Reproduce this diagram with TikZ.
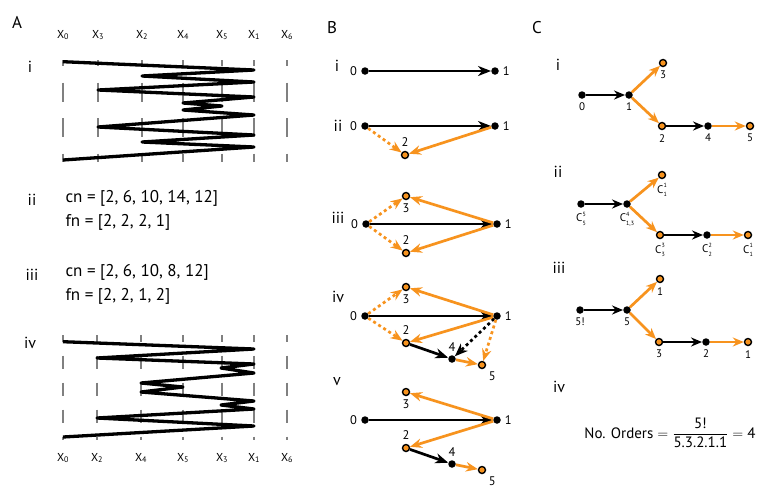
\documentclass[tikz,border=0pt]{standalone}
\usepackage{fontspec}
\setmainfont{PT Sans}
\usepackage{amsmath}
\usetikzlibrary{arrows.meta}
\definecolor{ordorange}{RGB}{247,147,30}
\definecolor{colgrey}{RGB}{128,128,128}
\newcommand{\Cnk}[2]{C\rlap{\raisebox{5.6pt}{\fontsize{6}{7}\selectfont#1}}\raisebox{-3.6pt}{\fontsize{6}{7}\selectfont#2}}
\tikzset{
  bdot/.style={circle, fill=black, inner sep=0pt, minimum size=7.5pt},
  odot/.style={circle, draw=black, fill=ordorange, line width=1.4pt, inner sep=0pt, minimum size=7pt},
  barr/.style={black, line width=2.7pt, -{Stealth[length=13pt, width=10pt, inset=4pt]}},
  oarr/.style={ordorange, line width=2.7pt, -{Stealth[length=12pt, width=9.5pt, inset=4pt]}},
  carr/.style={line width=2.7pt, -{Stealth[length=11pt, width=9pt, inset=3.5pt]}},
  dotline/.style={dash pattern=on 3pt off 3pt},
  gridtop/.style={colgrey, line width=2pt, dash pattern=on 19pt off 16.5pt, dash phase=13pt},
  gridbot/.style={colgrey, line width=2pt, dash pattern=on 13.5pt off 13.5pt, dash phase=6.5pt},
  zigzag/.style={black, line width=3.3pt, line join=round},
  panel/.style={font=\fontsize{17}{20}\selectfont},
  roman/.style={font=\fontsize{16}{19}\selectfont, anchor=base},
  colx/.style={font=\fontsize{11.5}{13}\selectfont},
  listtxt/.style={font=\fontsize{17}{20}\selectfont, anchor=base west},
  blab/.style={font=\fontsize{12.5}{14}\selectfont},
  clab/.style={font=\fontsize{11}{12}\selectfont},
  label distance=0.5pt
}
\begin{document}
\begin{tikzpicture}[x=1pt, y=-1pt]
                \useasboundingbox (0,0) rectangle (763,491);
                \node[panel] (labA) at (17,22) {A};
                \node[panel] (labB) at (332,28) {B};
                \node[panel] (labC) at (537,28) {C};
                \node[colx] (tx0) at (63,35) {X\textsubscript{0}};
                \node[colx] (tx3) at (98,35) {X\textsubscript{3}};
                \node[colx] (tx2) at (142,35) {X\textsubscript{2}};
                \node[colx] (tx4) at (183,35) {X\textsubscript{4}};
                \node[colx] (tx5) at (222,35) {X\textsubscript{5}};
                \node[colx] (tx1) at (254,35) {X\textsubscript{1}};
                \node[colx] (tx6) at (287,35) {X\textsubscript{6}};
                \draw[gridtop] (63,60) -- (63,162);
                \draw[gridtop] (98,60) -- (98,162);
                \draw[gridtop] (142,60) -- (142,162);
                \draw[gridtop] (183,60) -- (183,162);
                \draw[gridtop] (222,60) -- (222,162);
                \draw[gridtop] (254,60) -- (254,162);
                \draw[gridtop] (287,60) -- (287,162);
                \draw[zigzag] (63,61.7) -- (254,70) -- (142,76) -- (254,82) -- (98,90) -- (254,97) -- (183,103) -- (222,106) -- (183,110) -- (254,115) -- (98,127) -- (254,135) -- (142,142) -- (254,147) -- (63,160);
                \node[roman] (ai) at (30,72) {i};
                \node[roman] (aii) at (32,205) {ii};
                \node[listtxt] (cnii) at (62,202) {cn = [2, 6, 10, 14, 12]};
                \node[listtxt] (fnii) at (62,226) {fn = [2, 2, 2, 1]};
                \node[roman] (aiii) at (32,280) {iii};
                \node[listtxt] (cniii) at (62,276) {cn = [2, 6, 10, 8, 12]};
                \node[listtxt] (fniii) at (62,300) {fn = [2, 2, 1, 2]};
                \node[roman] (aiv) at (30,348) {iv};
                \draw[gridbot] (63,335) -- (63,440);
                \draw[gridbot] (97,335) -- (97,440);
                \draw[gridbot] (141,335) -- (141,440);
                \draw[gridbot] (183,335) -- (183,440);
                \draw[gridbot] (222,335) -- (222,440);
                \draw[gridbot] (254,335) -- (254,440);
                \draw[gridbot] (287,335) -- (287,440);
                \draw[zigzag] (63,341.7) -- (254,349) -- (97,358) -- (254,364) -- (221,368) -- (254,373) -- (141,383) -- (183,387) -- (141,392) -- (254,401) -- (221,405) -- (254,409) -- (97,418) -- (254,426) -- (63,437);
                \node[colx] (bx0) at (63,458) {X\textsubscript{0}};
                \node[colx] (bx2) at (97,458) {X\textsubscript{2}};
                \node[colx] (bx4) at (141,458) {X\textsubscript{4}};
                \node[colx] (bx5) at (183,458) {X\textsubscript{5}};
                \node[colx] (bx3) at (222,458) {X\textsubscript{3}};
                \node[colx] (bx1) at (254,458) {X\textsubscript{1}};
                \node[colx] (bx6) at (287,458) {X\textsubscript{6}};

                \node[roman] (bi) at (337,71) {i};
                \node[bdot, label={[blab]left:0}] (bi0) at (365,71) {};
                \node[bdot, label={[blab]right:1}] (bi1) at (495,71) {};
                \draw[barr] (bi0) -- (bi1);
                \node[roman] (bii) at (338,131) {ii};
                \node[bdot, label={[blab]left:0}] (bii0) at (365,126) {};
                \node[bdot, label={[blab]right:1}] (bii1) at (495,126) {};
                \node[odot, label={[blab]above:2}] (bii2) at (405,155) {};
                \draw[barr] (bii0) -- (bii1);
                \draw[oarr, dotline] (bii0) -- (bii2);
                \draw[oarr] (bii1) -- (bii2);
                \node[roman] (biii) at (338,223) {iii};
                \node[bdot, label={[blab]left:0}] (biii0) at (366,224) {};
                \node[bdot, label={[blab]right:1}] (biii1) at (497,224) {};
                \node[odot, label={[blab]below:3}] (biii3) at (406,196) {};
                \node[odot, label={[blab]above:2}] (biii2) at (406,253) {};
                \draw[barr] (biii0) -- (biii1);
                \draw[oarr, dotline] (biii0) -- (biii3);
                \draw[oarr, dotline] (biii0) -- (biii2);
                \draw[oarr] (biii1) -- (biii3);
                \draw[oarr] (biii1) -- (biii2);
                \node[roman] (biv) at (338,302) {iv};
                \node[bdot, label={[blab]left:0}] (biv0) at (365,316) {};
                \node[bdot, label={[blab]right:1}] (biv1) at (497,316) {};
                \node[odot, label={[blab]below:3}] (biv3) at (406,287) {};
                \node[odot, label={[blab]above:2}] (biv2) at (406,343) {};
                \node[bdot, label={[blab]above:4}] (biv4) at (452,359) {};
                \node[odot, label={[blab]below right:5}] (biv5) at (482,365) {};
                \draw[barr] (biv0) -- (biv1);
                \draw[oarr, dotline] (biv0) -- (biv3);
                \draw[oarr, dotline] (biv0) -- (biv2);
                \draw[oarr] (biv1) -- (biv3);
                \draw[oarr] (biv1) -- (biv2);
                \draw[barr] (biv2) -- (biv4);
                \draw[oarr] (biv4) -- (biv5);
                \draw[barr, dotline] (biv1) -- (biv4);
                \draw[oarr, dotline] (biv1) -- (biv5);
                \node[roman] (bv) at (337,385) {v};
                \node[bdot, label={[blab]left:0}] (bv0) at (365,420) {};
                \node[bdot, label={[blab]right:1}] (bv1) at (497,420) {};
                \node[odot, label={[blab]below:3}] (bv3) at (406,392) {};
                \node[odot, label={[blab]above:2}] (bv2) at (406,448) {};
                \node[bdot, label={[blab]above:4}] (bv4) at (452,464) {};
                \node[odot, label={[blab]below right:5}] (bv5) at (482,470) {};
                \draw[barr] (bv0) -- (bv1);
                \draw[oarr] (bv1) -- (bv3);
                \draw[oarr] (bv1) -- (bv2);
                \draw[barr] (bv2) -- (bv4);
                \draw[oarr] (bv4) -- (bv5);

                \node[roman] (ci) at (558,70) {i};
                \node[bdot, label={[clab]below:0}] (ci0) at (582,95) {};
                \node[bdot, label={[clab]below:1}] (ci1) at (629,95) {};
                \node[odot, label={[clab]below:3}] (ci3) at (663,63) {};
                \node[odot, label={[clab]below:2}] (ci2) at (662,126) {};
                \node[bdot, label={[clab]below:4}] (ci4) at (708,126) {};
                \node[odot, label={[clab]below:5}] (ci5) at (750,126) {};
                \draw[carr, black] (ci0) -- (ci1);
                \draw[carr, ordorange] (ci1) -- (ci3);
                \draw[carr, ordorange] (ci1) -- (ci2);
                \draw[carr, black] (ci2) -- (ci4);
                \draw[carr, ordorange] (ci4) -- (ci5);
                \node[roman] (cii) at (558,177) {ii};
                \node[bdot, label={[clab]below:\Cnk{5}{5}}] (cii0) at (581,204) {};
                \node[bdot, label={[clab]below:\Cnk{4}{1,3}}] (cii1) at (627,204) {};
                \node[odot, label={[clab]below:\Cnk{1}{1}}] (cii3) at (662,175) {};
                \node[odot, label={[clab]below:\Cnk{3}{3}}] (cii2) at (660,235) {};
                \node[bdot, label={[clab]below:\Cnk{2}{2}}] (cii4) at (707,235) {};
                \node[odot, label={[clab]below:\Cnk{1}{1}}] (cii5) at (748,235) {};
                \draw[carr, black] (cii0) -- (cii1);
                \draw[carr, ordorange] (cii1) -- (cii3);
                \draw[carr, ordorange] (cii1) -- (cii2);
                \draw[carr, black] (cii2) -- (cii4);
                \draw[carr, ordorange] (cii4) -- (cii5);
                \node[roman] (ciii) at (559,273) {iii};
                \node[bdot, label={[clab]below:5!}] (ciii0) at (580,310) {};
                \node[bdot, label={[clab]below:5}] (ciii1) at (627,310) {};
                \node[odot, label={[clab]below:1}] (ciii3) at (660,279) {};
                \node[odot, label={[clab]below:3}] (ciii2) at (659,342) {};
                \node[bdot, label={[clab]below:2}] (ciii4) at (706,342) {};
                \node[odot, label={[clab]below:1}] (ciii5) at (748,342) {};
                \draw[carr, black] (ciii0) -- (ciii1);
                \draw[carr, ordorange] (ciii1) -- (ciii3);
                \draw[carr, ordorange] (ciii1) -- (ciii2);
                \draw[carr, black] (ciii2) -- (ciii4);
                \draw[carr, ordorange] (ciii4) -- (ciii5);
                \node[roman] (civ) at (559,392) {iv};
                \node[font=\fontsize{15}{18}\selectfont] (norders) at (670,433) {No. Orders $=\dfrac{\text{5!}}{\text{5.3.2.1.1}}=\text{4}$};
\end{tikzpicture}
\end{document}
